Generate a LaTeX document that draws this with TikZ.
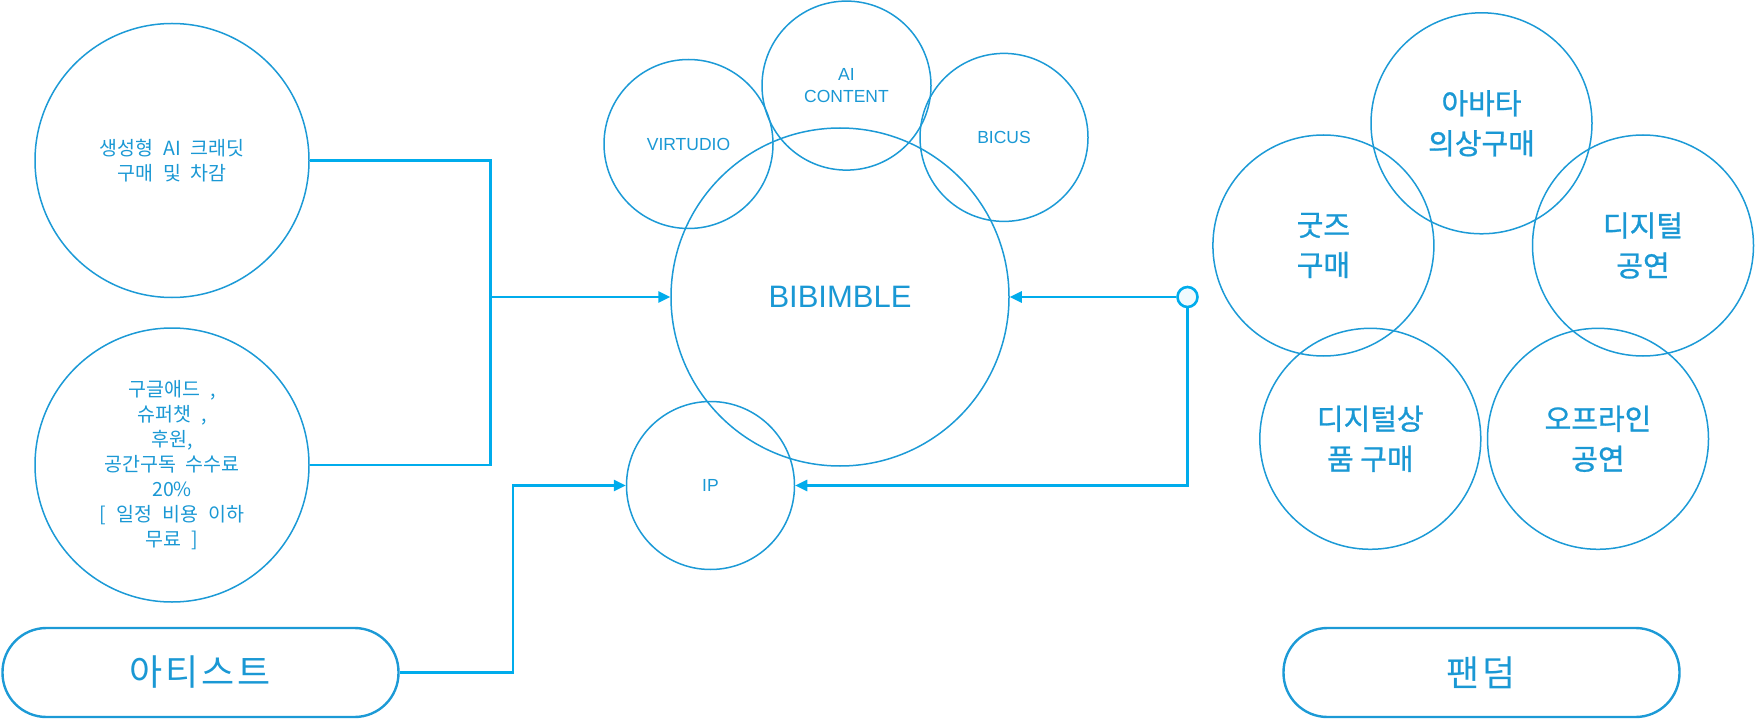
\documentclass[tikz,border=0pt]{standalone}
\usepackage{fontspec}
\setmainfont{Liberation Sans}
\newfontfamily\kr{Noto Sans CJK KR}
\newfontfamily\krmed[FakeBold=0.9]{Noto Sans CJK KR}
\newfontfamily\krsp[LetterSpace=8]{Noto Sans CJK KR}
\newcommand\myleftfont{\kr\fontsize{19.5}{25}\selectfont\spaceskip=10pt plus 0pt minus 0pt\relax}
\usetikzlibrary{arrows.meta}
\definecolor{circ}{RGB}{28,154,214}
\definecolor{conn}{RGB}{0,172,236}
\definecolor{txt}{RGB}{26,152,212}
\begin{document}
\begin{tikzpicture}[x=1pt,y=-1pt,
  bub/.style={circle,draw=circ,line width=1.5pt,inner sep=0pt,text=txt,align=center},
  lefttext/.style={font=\myleftfont},
  righttext/.style={font=\krmed\fontsize{29}{40}\selectfont},
  latintext/.style={font=\fontsize{17.5}{22}\selectfont},
  pillbox/.style={draw=circ,line width=2.4pt,rounded corners=44pt,minimum width=396pt,minimum height=89pt,inner sep=0pt,text=txt,font=\krsp\fontsize{36}{40}\selectfont},
  link/.style={draw=conn,line width=2.6pt},
  tip/.style={-{Triangle[length=12pt,width=11pt]}}]
\useasboundingbox (0,0) rectangle (1755,719);
% left bubbles
\node[bub,lefttext,minimum size=274pt] (A) at (172,160.5) {생성형 AI 크래딧\\구매 및 차감};
\node[bub,lefttext,minimum size=274pt] (B) at (172,465) {구글애드 ,\\슈퍼챗 ,\\후원,\\공간구독 수수료\\20\%\\{[} 일정 비용 이하\\무료 ]};
\node[pillbox] (art) at (200.5,672.5) {아티스트};
% center cluster
\node[bub,font=\fontsize{31}{36}\selectfont,minimum size=338pt] (BIB) at (840,297) {BIBIMBLE};
\node[bub,latintext,minimum size=169pt] (VIR) at (688.5,144) {VIRTUDIO};
\node[bub,latintext,minimum size=169pt] (AIC) at (846.5,85.6) {AI\\CONTENT};
\node[bub,latintext,minimum size=168pt] (BIC) at (1004,137.4) {BICUS};
\node[bub,latintext,minimum size=168pt] (IP) at (710.5,485.5) {IP};
% right cluster
\node[bub,righttext,minimum size=221pt] (R1) at (1481.5,123.3) {아바타\\의상구매};
\node[bub,righttext,minimum size=221pt] (R2) at (1323.4,245.5) {굿즈\\구매};
\node[bub,righttext,minimum size=221pt] (R3) at (1643,245.5) {디지털\\공연};
\node[bub,righttext,minimum size=221pt] (R4) at (1370.3,438.8) {디지털상\\품 구매};
\node[bub,righttext,minimum size=221pt] (R5) at (1598,438.8) {오프라인\\공연};
\node[pillbox] (fan) at (1481.5,672.5) {팬덤};
% connectors
\node[circle,draw=conn,line width=2.6pt,fill=conn!6,minimum size=20pt,inner sep=0pt] (dot) at (1187.5,297) {};
\coordinate (j1) at (490.6,297);
\coordinate (j2) at (512.8,485.5);
\draw[link] (A.east) -| (j1);
\draw[link] (B.east) -| (j1);
\draw[link,tip] (j1) -- (BIB.west);
\draw[link,tip] (art.east) -| (j2) -- (IP.west);
\draw[link,tip] (dot.west) -- (BIB.east);
\draw[link,tip] (dot.south) |- (IP.east);
\end{tikzpicture}
\end{document}
